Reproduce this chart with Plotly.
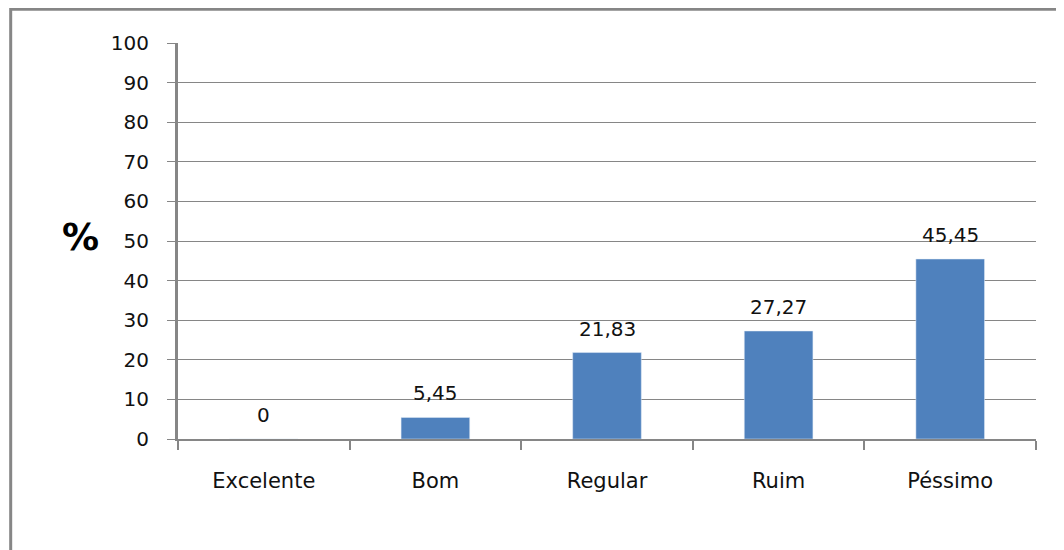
import plotly.graph_objects as go

categorias = ['Excelente', 'Bom', 'Regular', 'Ruim', 'Péssimo']
percentuais = [0, 5.45, 21.83, 27.27, 45.45]
rotulos = ['0', '5,45', '21,83', '27,27', '45,45']

fonte = dict(family='DejaVu Sans', size=20, color='#111111')
cinza = '#868686'

fig = go.Figure(go.Bar(
    x=categorias,
    y=percentuais,
    marker_color='#4f81bd',
    width=0.4,
))

for cat, val, txt in zip(categorias, percentuais, rotulos):
    fig.add_annotation(x=cat, y=val, text=txt, showarrow=False,
                       yanchor='bottom', yshift=10, font=fonte)

# % no lugar do título do eixo
fig.add_annotation(x=-0.114, y=0.51, xref='paper', yref='paper', text='<b>%</b>',
                   xanchor='center', yanchor='middle', showarrow=False,
                   font=dict(family='DejaVu Sans', size=37, color='black'))

# moldura do gráfico
fig.add_shape(type='rect', xref='paper', yref='paper', x0=-0.195, x1=1.06, y0=-0.4, y1=1.085,
              line=dict(color=cinza, width=3))

fig.update_layout(
    width=1056, height=542,
    margin=dict(l=170, r=28, t=35, b=111),
    plot_bgcolor='white', paper_bgcolor='white',
    showlegend=False,
    font=fonte,
)
fig.update_xaxes(
    tickson='boundaries', ticks='outside', ticklen=9, tickcolor=cinza, tickwidth=2,
    showline=True, linecolor=cinza, linewidth=2, showgrid=False,
    ticklabelstandoff=22, tickfont=dict(family='DejaVu Sans', size=21, color='#111111'),
)
fig.update_yaxes(
    range=[0, 100], dtick=10, ticks='outside', ticklen=8, tickcolor=cinza, tickwidth=1,
    showline=True, linecolor=cinza, linewidth=3,
    showgrid=True, gridcolor=cinza, gridwidth=1, zeroline=False,
    ticklabelstandoff=14, tickfont=fonte,
)

fig.write_html('out.html')
